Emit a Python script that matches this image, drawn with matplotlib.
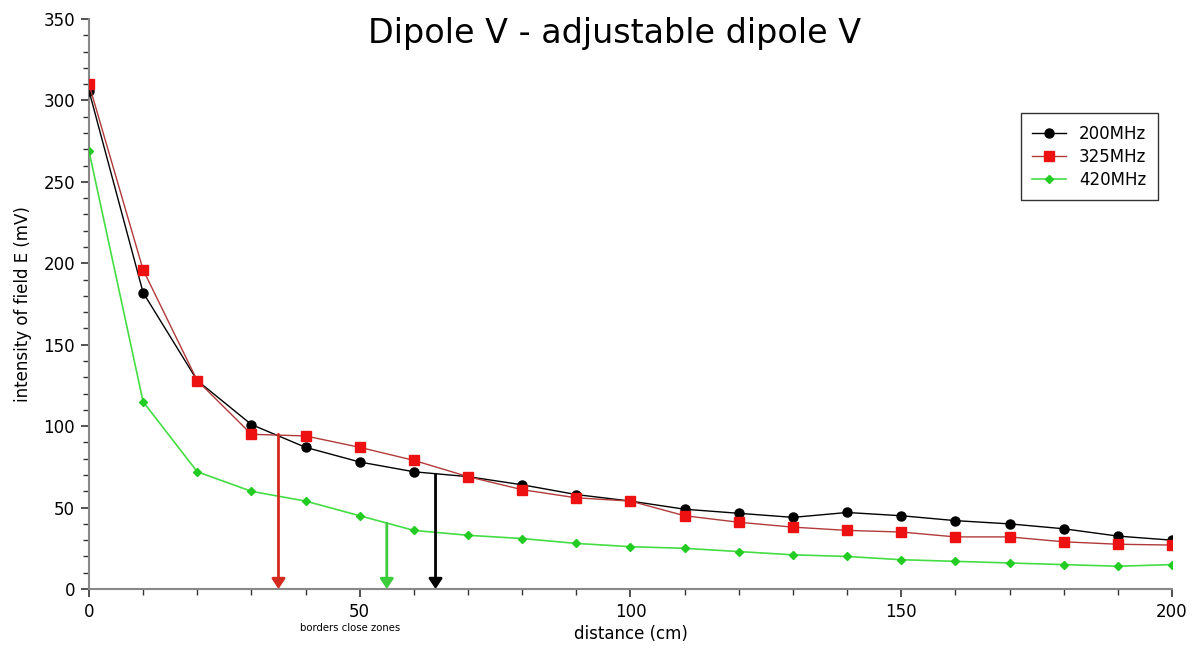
import matplotlib
matplotlib.use("Agg")
import matplotlib.pyplot as plt
from matplotlib.ticker import MultipleLocator

distance = [0, 10, 20, 30, 40, 50, 60, 70, 80, 90, 100, 110, 120, 130, 140, 150, 160, 170, 180, 190, 200]
e_200 = [306, 182, 128, 101, 87, 78, 72, 69, 64, 58, 54, 49, 46.5, 44, 47, 45, 42, 40, 37, 32.5, 30]
e_325 = [310, 196, 128, 95, 94, 87, 79, 69, 61, 56, 54, 45, 41, 38, 36, 35, 32, 32, 29, 27.5, 27]
e_420 = [269, 115, 72, 60, 54, 45, 36, 33, 31, 28, 26, 25, 23, 21, 20, 18, 17, 16, 15, 14, 15]

# close-zone borders: (x, y_start, colour)
border_x = [35, 55, 64]
border_y = [95, 40.5, 70.5]
border_col = ["#d42a1e", "#3ccc3c", "#000000"]

plt.rcParams['font.family'] = ['DejaVu Sans']
fig = plt.figure(figsize=(11.94, 6.48), dpi=100)
ax = fig.add_axes([0.0745, 0.091, 0.9071, 0.8797])

ax.plot(distance, e_200, color="black", lw=1.0, marker="o", ms=6.5, mfc="black", mec="black", label="200MHz", zorder=3)
ax.plot(distance, e_325, color="#b03a3a", lw=1.0, marker="s", ms=6.5, mfc="#ee1111", mec="#ee1111", label="325MHz", zorder=3)
ax.plot(distance, e_420, color="#44dd44", lw=1.2, marker="D", ms=4, mfc="#22cc22", mec="#22cc22", label="420MHz", zorder=3)

for bx, by, bc in zip(border_x, border_y, border_col):
    ax.annotate("", xy=(bx, 0), xytext=(bx, by),
                arrowprops=dict(arrowstyle="-|>,head_length=0.6,head_width=0.4", color=bc, lw=2,
                                shrinkA=0, shrinkB=0),
                zorder=4, annotation_clip=False)

ax.set_xlim(0, 200)
ax.set_ylim(0, 350)
ax.xaxis.set_major_locator(MultipleLocator(50))
ax.xaxis.set_minor_locator(MultipleLocator(10))
ax.yaxis.set_major_locator(MultipleLocator(50))
ax.yaxis.set_minor_locator(MultipleLocator(10))
ax.tick_params(which="major", direction="out", length=6, width=1.2, color="#333333", labelsize=12, pad=4)
ax.tick_params(which="minor", direction="out", length=4, width=1.0, color="#333333")
for s in ["top", "right"]:
    ax.spines[s].set_visible(False)
for s in ["left", "bottom"]:
    ax.spines[s].set_color("#888888")
    ax.spines[s].set_linewidth(1.5)

ax.set_xlabel("distance (cm)", fontsize=12, labelpad=3)
ax.set_ylabel("intensity of field E (mV)", fontsize=12, labelpad=8)
fig.text(300 / 1194, 1 - 628 / 648, "borders close zones", ha="left", va="center", fontsize=7.3)
fig.text(0.515, 0.949, "Dipole V - adjustable dipole V", ha="center", va="center", fontsize=24)

leg = ax.legend(loc="upper right", bbox_to_anchor=(0.987, 0.835), frameon=True, fancybox=False,
                edgecolor="black", fontsize=12, handlelength=2.0, borderpad=0.7, labelspacing=0.3,
                borderaxespad=0)
leg.get_frame().set_linewidth(1.0)

fig.savefig("out.png", dpi=100)
